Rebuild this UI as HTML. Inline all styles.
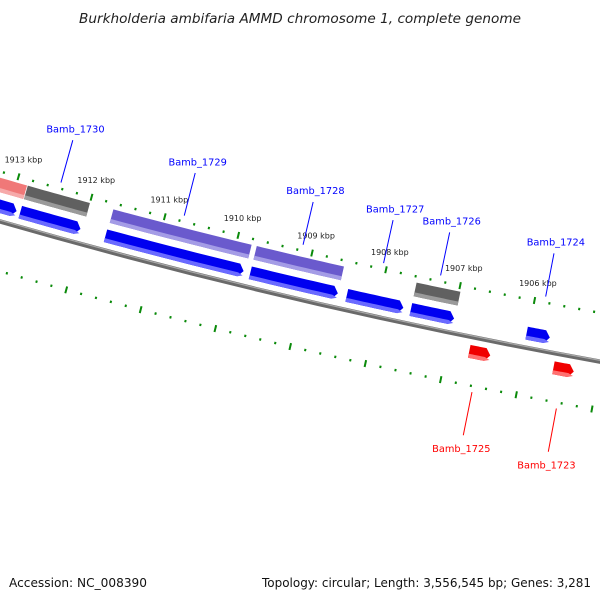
<!DOCTYPE html>
<html><head><meta charset="utf-8"><style>html,body{margin:0;padding:0;background:#fff}svg{display:block}</style></head>
<body>
<svg id="map" width="600" height="600" viewBox="0 0 600 600" xmlns="http://www.w3.org/2000/svg" font-family="'DejaVu Sans','Liberation Sans',sans-serif">
<rect x="0" y="0" width="600" height="600" fill="#fff"/>
<text x="300" y="23" text-anchor="middle" font-size="13" font-style="italic" fill="#222" textLength="442" lengthAdjust="spacingAndGlyphs">Burkholderia ambifaria AMMD chromosome 1, complete genome</text>
<g id="ticks"></g>
<g id="features"></g>
<g id="labels"></g>
<text x="9" y="587" font-size="12" fill="#111" textLength="138" lengthAdjust="spacingAndGlyphs">Accession: NC_008390</text>
<text x="591" y="587" text-anchor="end" font-size="12" fill="#111" textLength="329" lengthAdjust="spacingAndGlyphs">Topology: circular; Length: 3,556,545 bp; Genes: 3,281</text>
</svg>
<script>
// data (kbp)
var featStart = [1913.8, 1912.85, 1911.68, 1909.73, 1907.57, 1913.8, 1912.85, 1911.69, 1909.73, 1908.43, 1907.57, 1906.02, 1906.71, 1905.59];
var featEnd   = [1912.86, 1912.0, 1909.80, 1908.55, 1906.98, 1912.90, 1912.03, 1909.82, 1908.55, 1907.67, 1906.99, 1905.71, 1906.43, 1905.32];
var featKind  = ['pink','grey','purple','purple','grey','fwd','fwd','fwd','fwd','fwd','fwd','fwd','rev','rev'];
var geneNames = ['Bamb_1730','Bamb_1729','Bamb_1728','Bamb_1727','Bamb_1726','Bamb_1724','Bamb_1725','Bamb_1723'];
var geneStart = [1912.85, 1911.69, 1909.73, 1908.43, 1907.57, 1906.02, 1906.71, 1905.59];
var geneEnd   = [1912.03, 1909.82, 1908.55, 1907.67, 1906.99, 1905.71, 1906.43, 1905.32];
var geneStrand= [1,1,1,1,1,1,-1,-1];
var tickFrom = 1914.0, tickTo = 1905.0, tickStep = 0.2;
var tickLabelValues = [1913,1912,1911,1910,1909,1908,1907,1906];

var CX=1685, CY=-5635, R=6094;
var NS='http://www.w3.org/2000/svg';
function ang(k){ return (106.0 - (1913 - k)*0.7186) * Math.PI/180; }
function P(k,r){ var a=ang(k); return [CX+r*Math.cos(a), CY+r*Math.sin(a)]; }
function mk(tag, attrs, parent){ var e=document.createElementNS(NS,tag); for(var k in attrs) e.setAttribute(k,attrs[k]); parent.appendChild(e); return e; }
function f(p){ return p[0].toFixed(2)+','+p[1].toFixed(2); }

var gT=document.getElementById('ticks'), gF=document.getElementById('features'), gL=document.getElementById('labels');

// backbone
var bb=mk('path',{d:'M'+f(P(1916,R))+' A'+R+' '+R+' 0 0 0 '+f(P(1904,R)),fill:'none',stroke:'#6a6a6a','stroke-width':4.5},gF);


var bb2=mk('path',{d:'M'+f(P(1916,R-1.2))+' A'+(R-1.2)+' '+(R-1.2)+' 0 0 0 '+f(P(1904,R-1.2)),fill:'none',stroke:'#a8a8a8','stroke-width':1.2},gF);



// ticks
var n=Math.round((tickFrom-tickTo)/tickStep);
[R-48,R+48].forEach(function(rr,row){
  for(var i=0;i<=n;i++){
    var k=tickFrom-i*tickStep; var major=Math.abs(k-Math.round(k))<1e-6;
    var h=major?3.5:1.2;
    var ln=mk('line',{x1:P(k,rr-h)[0],y1:P(k,rr-h)[1],x2:P(k,rr+h)[0],y2:P(k,rr+h)[1],stroke:'#0a8a0a','stroke-width':2},gT);
    
    
  }
});
tickLabelValues.forEach(function(k){
  var p=P(k,R-66);
  var t=mk('text',{x:p[0],y:p[1]+3,'text-anchor':'middle','font-size':8,fill:'#222'},gT);
  t.textContent=k+' kbp';
  
  
});

// features
function bandPts(k1,k2,r1,r2,dir){
  var tip=5/R*180/Math.PI/0.7186;
  var top=[],bot=[],N=12,pts;
  var rng = dir==-1 ? [k2+tip,k1] : [k1, dir==1?k2+tip:k2];
  for(var i=0;i<=N;i++){ var k=rng[0]+(rng[1]-rng[0])*i/N; top.push(P(k,r1)); bot.push(P(k,r2)); }
  if(dir==-1){ pts=[P(k2,(r1+r2)/2)].concat(top).concat(bot.reverse()); }
  else if(dir==1){ pts=top.concat([P(k2,(r1+r2)/2)]).concat(bot.reverse()); }
  else { pts=top.concat(bot.reverse()); }
  return pts.map(f).join(' ');
}
var styles={pink:['#f07878','#f6aaaa',R-42,R-28,0],grey:['#606060','#9a9a9a',R-42,R-28,0],purple:['#6a5acd','#a49ce6',R-42,R-28,0],
  fwd:['#0000f0','#6a6aff',R-21,R-8,1],rev:['#f00000','#ff7070',R+8,R+21,-1]};
for(var i=0;i<featStart.length;i++){
  var s=styles[featKind[i]];
  var pg=mk('polygon',{points:bandPts(featStart[i],featEnd[i],s[2],s[3],s[4]),fill:s[0]},gF);
  
  
  var hl=mk('polygon',{points:bandPts(featStart[i],featEnd[i],s[3]-4,s[3],s[4]),fill:s[1]},gF);
  
  
}

// gene labels
for(var j=0;j<geneNames.length;j++){
  var m=(geneStart[j]+geneEnd[j])/2, sd=geneStrand[j];
  var p1=P(m,R-sd*54), p2=P(m,R-sd*98), pt=P(m,R-sd*108);
  var col=sd==1?'#0000ff':'#ff0000';
  var l=mk('line',{x1:p1[0],y1:p1[1],x2:p2[0],y2:p2[1],stroke:col,'stroke-width':1},gL);
  
  
  var t=mk('text',{x:pt[0],y:pt[1]+(sd==1?2:7),'text-anchor':'middle','font-size':9.8,fill:col},gL);
  t.textContent=geneNames[j];
  
  
}
</script>
</body></html>
